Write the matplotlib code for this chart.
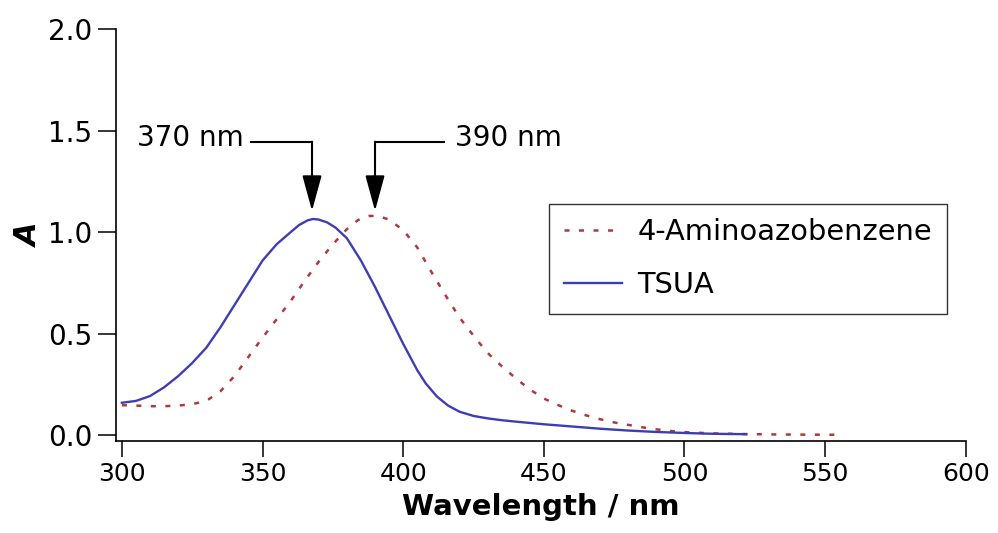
import numpy as np
import matplotlib
matplotlib.use('Agg')
import matplotlib.pyplot as plt

# TSUA absorbance spectrum
tsua_nm = [300, 305, 310, 315, 320, 325, 330, 335, 340, 345, 350, 355, 360,
           363, 366, 368, 370, 373, 376, 380, 385, 390, 395, 400, 405, 408,
           412, 416, 420, 425, 430, 435, 440, 450, 460, 470, 480, 490, 500,
           510, 522]
tsua_abs = [0.159, 0.168, 0.192, 0.235, 0.29, 0.355, 0.43, 0.53, 0.64, 0.75,
            0.86, 0.94, 1.0, 1.035, 1.058, 1.065, 1.062, 1.048, 1.022, 0.97,
            0.86, 0.73, 0.59, 0.45, 0.32, 0.255, 0.19, 0.145, 0.115, 0.094,
            0.082, 0.073, 0.066, 0.053, 0.042, 0.031, 0.022, 0.015, 0.01,
            0.006, 0.004]

# 4-Aminoazobenzene spectrum
aab_nm = [300, 305, 310, 315, 320, 325, 330, 335, 340, 345, 350, 355, 360,
          365, 370, 375, 380, 384, 388, 391, 395, 400, 405, 410, 415, 420,
          425, 430, 435, 440, 445, 450, 455, 460, 465, 470, 475, 480, 485,
          490, 495, 500, 510, 520, 530, 540, 555]
aab_abs = [0.147, 0.145, 0.142, 0.142, 0.145, 0.152, 0.168, 0.215, 0.29,
           0.385, 0.48, 0.57, 0.66, 0.76, 0.855, 0.94, 1.015, 1.06, 1.08,
           1.08, 1.062, 1.01, 0.925, 0.805, 0.69, 0.58, 0.49, 0.405, 0.34,
           0.28, 0.225, 0.18, 0.148, 0.12, 0.097, 0.078, 0.062, 0.05, 0.038,
           0.028, 0.02, 0.014, 0.008, 0.005, 0.003, 0.002, 0.001]

# peak markers: arrow position, label
peak_x = [367.6, 390.0]
peak_labels = ['370 nm', '390 nm']

xticks = [300, 350, 400, 450, 500, 550, 600]
yticks = [0.0, 0.5, 1.0, 1.5, 2.0]

fig = plt.figure(figsize=(9.98, 5.33), dpi=100)
ax = fig.add_axes([0.1162, 0.1732, 0.8514, 0.7718])

ax.plot(aab_nm, aab_abs, color='#b03a3a', lw=1.8, dashes=(2, 3.8),
        label='4-Aminoazobenzene')
ax.plot(tsua_nm, tsua_abs, color='#3e3eb4', lw=1.7, label='TSUA')

ax.set_xlim(297.9, 600)
ax.set_ylim(-0.028, 2.0)
ax.set_xticks(xticks)
ax.set_yticks(yticks)
ax.set_yticklabels(['%.1f' % v for v in yticks])

for s in ['top', 'right']:
    ax.spines[s].set_visible(False)
for s in ['left', 'bottom']:
    ax.spines[s].set_linewidth(1.2)

ax.tick_params(axis='x', direction='out', length=11.5, width=1.1,
               labelsize=18, pad=4)
ax.tick_params(axis='y', direction='out', length=13, width=1.1,
               labelsize=20, pad=4)

ax.set_xlabel('Wavelength / nm', fontsize=21, fontweight='bold', labelpad=5)
ax.set_ylabel('A', fontsize=22, fontweight='bold', style='italic', labelpad=3)

# arrows to the peaks
y_line = 1.446
y_tip = 1.105
# 370 nm: label on the left
ax.plot([345.5, peak_x[0]], [y_line, y_line], color='k', lw=1.5,
        solid_capstyle='butt')
ax.text(343.5, y_line + 0.02, peak_labels[0], ha='right', va='center',
        fontsize=20)
# 390 nm: label on the right
ax.plot([peak_x[1], 414.8], [y_line, y_line], color='k', lw=1.5,
        solid_capstyle='butt')
ax.text(418.3, y_line + 0.02, peak_labels[1], ha='left', va='center',
        fontsize=20)
for px in peak_x:
    ax.annotate('', xy=(px, y_tip), xytext=(px, y_line),
                arrowprops=dict(arrowstyle='-|>,head_length=1.1,head_width=0.3',
                                color='k', lw=1.5, shrinkA=0, shrinkB=0,
                                mutation_scale=20))

leg = ax.legend(loc='upper right', bbox_to_anchor=(0.9776, 0.5753),
                borderaxespad=0, fontsize=20.8, handlelength=2.0,
                handletextpad=0.55, labelspacing=0.86, borderpad=0.5,
                fancybox=False, frameon=True)
leg.get_frame().set_edgecolor('black')
leg.get_frame().set_linewidth(1.0)

fig.savefig('out.png', dpi=100)
